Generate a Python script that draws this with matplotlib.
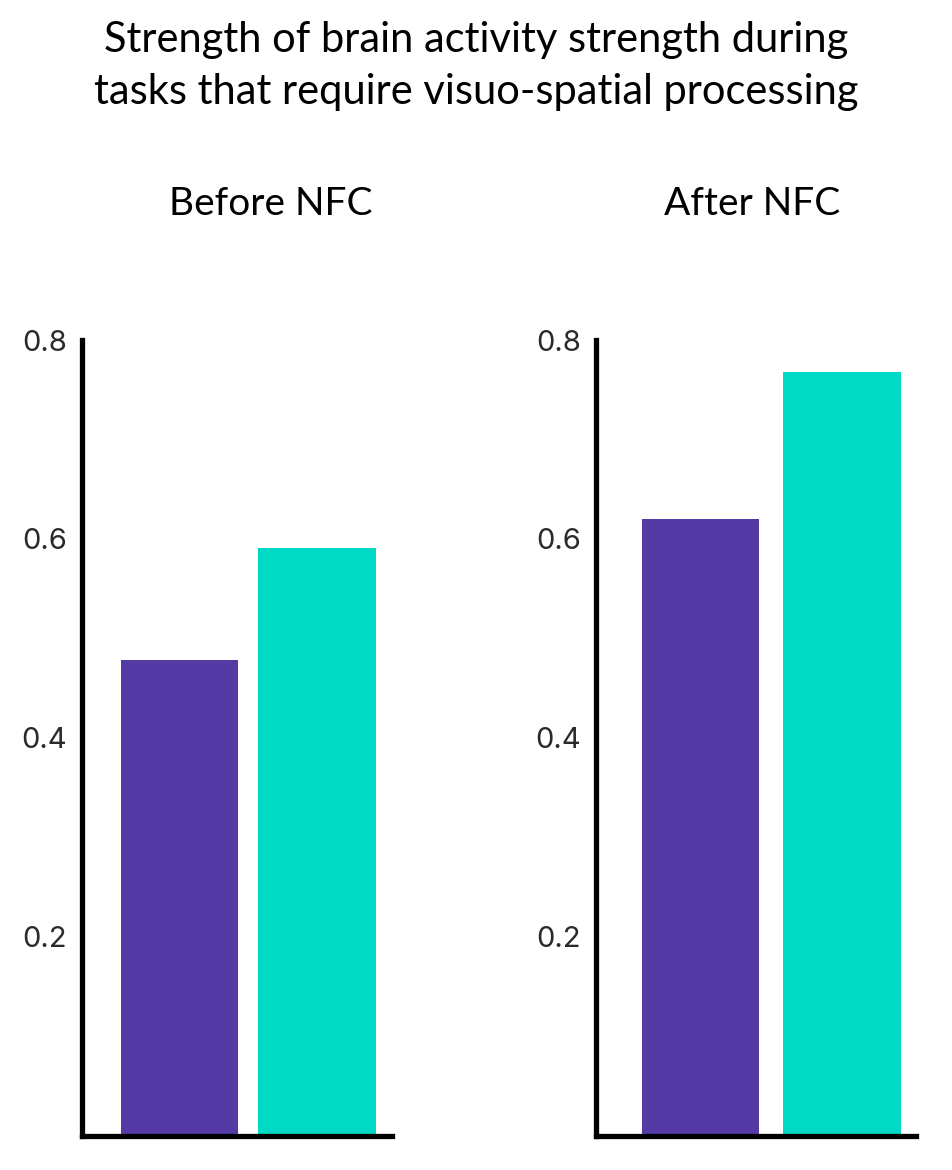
"""Before / after NFC bar panels for brain activity strength."""

import matplotlib.pyplot as plt

TITLE = "Strength of brain activity strength during\ntasks that require visuo-spatial processing"
PANEL_TITLES = ["Before NFC", "After NFC"]
GROUPS = ["Group A", "Group B"]
BEFORE_VALUES = [0.478, 0.591]
AFTER_VALUES = [0.620, 0.768]
Y_TICKS = [0.2, 0.4, 0.6, 0.8]
Y_TICK_LABELS = ["0.2", "0.4", "0.6", "0.8"]

BAR_COLORS = ["#543AA4", "#00D9C4"]
TICK_FONT = "Inter"
TITLE_FONT = "Lato"


def draw_panel(ax, values, bar_width, xlim):
    """One panel: two bars, left and bottom axis lines only."""
    ax.bar(range(len(values)), values, width=bar_width, color=BAR_COLORS)
    ax.set_xlim(*xlim)
    ax.set_ylim(0, 0.8)
    ax.set_xticks([])
    ax.set_yticks(Y_TICKS)
    ax.set_yticklabels(Y_TICK_LABELS, fontsize=21, family=TICK_FONT, color="#2a2a2a")
    ax.tick_params(axis="y", length=0, pad=11)
    for side in ["top", "right"]:
        ax.spines[side].set_visible(False)
    for side in ["left", "bottom"]:
        ax.spines[side].set_linewidth(3.8)
        ax.spines[side].set_color("black")
        ax.spines[side].set_capstyle("projecting")


fig = plt.figure(figsize=(9.52, 11.7), dpi=100)

ax_before = fig.add_axes([0.0861, 0.0291, 0.3256, 0.6803])
draw_panel(ax_before, BEFORE_VALUES, 0.855, (-0.707, 1.54))

ax_after = fig.add_axes([0.626, 0.0291, 0.336, 0.6803])
draw_panel(ax_after, AFTER_VALUES, 0.83, (-0.739, 1.523))

fig.text(0.5, 0.982, TITLE, ha="center", va="top", fontsize=30,
         family=TITLE_FONT, linespacing=1.45)
fig.text(0.284, 0.826, PANEL_TITLES[0], ha="center", va="center",
         fontsize=28, family=TITLE_FONT)
fig.text(0.79, 0.826, PANEL_TITLES[1], ha="center", va="center",
         fontsize=28, family=TITLE_FONT)

fig.savefig("out.png", dpi=100, facecolor="white")
